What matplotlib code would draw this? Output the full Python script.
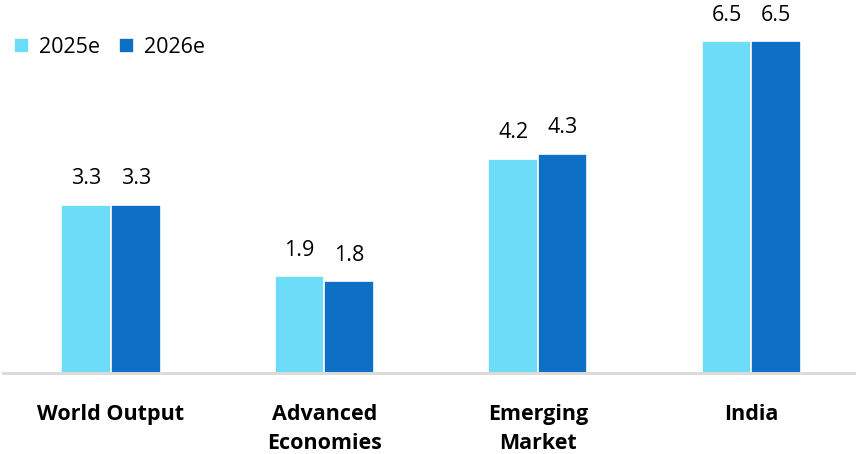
import numpy as np
import matplotlib.pyplot as plt

categories = ["World Output", "Advanced\nEconomies", "Emerging\nMarket", "India"]
series_names = ["2025e", "2026e"]
vals_2025 = [3.3, 1.9, 4.2, 6.5]
vals_2026 = [3.3, 1.8, 4.3, 6.5]
colors = ["#6DDCF9", "#0E6FC6"]

plt.rcParams["font.family"] = ["Open Sans", "DejaVu Sans"]

fig = plt.figure(figsize=(8.56, 4.54), dpi=100)
ax = fig.add_axes([0.0035, 0.178, 0.9965, 0.822])

x = np.arange(len(categories))
w = 0.232
for i, (vals, name) in enumerate(zip([vals_2025, vals_2026], series_names)):
    pos = x + (i - 0.5) * w
    bars = ax.bar(pos, vals, width=w, color=colors[i], edgecolor="white",
                  linewidth=1.2, label=name, zorder=2)
    for b, v in zip(bars, vals):
        ax.text(b.get_x() + b.get_width() / 2, v + 0.3, f"{v:.1f}",
                ha="center", va="bottom", fontsize=15.5, color="#000000")

ax.set_xlim(-0.506, 3.49)
ax.set_ylim(0, 7.31)
ax.set_yticks([])
ax.set_xticks(x)
ax.set_xticklabels(categories, fontsize=15.5, fontweight="bold", linespacing=1.5)
ax.tick_params(axis="x", length=0, pad=22)
for s in ["top", "right", "left"]:
    ax.spines[s].set_visible(False)
ax.spines["bottom"].set_color("#D9D9D9")
ax.spines["bottom"].set_linewidth(2)

ax.legend(loc="upper left", bbox_to_anchor=(-0.002, 0.935), ncol=2, frameon=False,
          fontsize=15.5, handlelength=0.7, handleheight=0.7, handletextpad=0.45,
          columnspacing=0.9, borderaxespad=0.2)

fig.savefig("out.png", dpi=100)
